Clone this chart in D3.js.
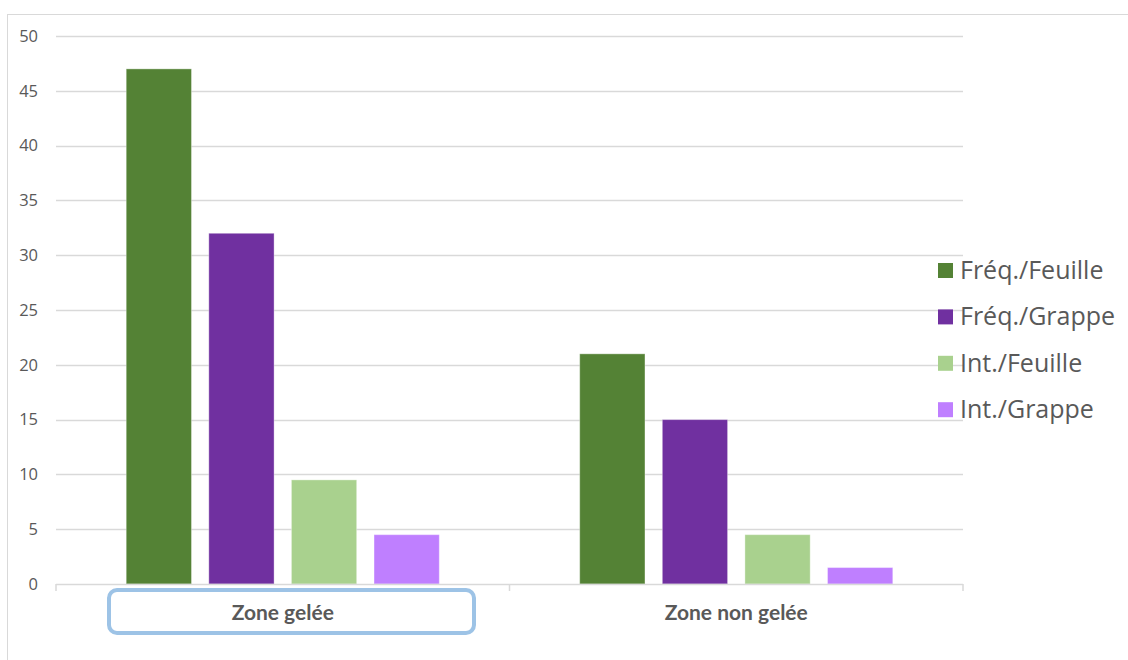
<!DOCTYPE html>
<html>
<head>
<meta charset="utf-8">
<script src="https://cdn.jsdelivr.net/npm/d3@7"></script>
<style>
  body { margin: 0; background: #fff; }
</style>
</head>
<body>
<script>
// categories, series and values
var zones = ["Zone gelée", "Zone non gelée"];
var seriesNames = ["Fréq./Feuille", "Fréq./Grappe", "Int./Feuille", "Int./Grappe"];
var seriesColors = ["#548235", "#7030a0", "#a9d18e", "#bf7fff"];
var valuesGelee = [47, 32, 9.5, 4.5];
var valuesNonGelee = [21, 15, 4.5, 1.5];
var yTicks = [0, 5, 10, 15, 20, 25, 30, 35, 40, 45, 50];

var width = 1128, height = 660;
var margin = {top: 36, right: 165, bottom: 76, left: 56};

var svg = d3.select("body").append("svg")
    .attr("width", width)
    .attr("height", height);

// outer chart frame
svg.append("rect")
    .attr("x", 7.5).attr("y", 14.5)
    .attr("width", 1140).attr("height", 700)
    .attr("fill", "none")
    .attr("stroke", "#d9d9d9");

var table = [
  {zone: zones[0], values: valuesGelee},
  {zone: zones[1], values: valuesNonGelee}
];

var x0 = d3.scaleBand()
    .domain(zones)
    .range([margin.left, width - margin.right])
    .paddingInner(0)
    .paddingOuter(0);

var x1 = d3.scaleBand()
    .domain(seriesNames)
    .range([0, x0.bandwidth()])
    .paddingInner(0.21)
    .paddingOuter(0.85);

var y = d3.scaleLinear()
    .domain([0, 50])
    .range([584, margin.top]);

var color = d3.scaleOrdinal().domain(seriesNames).range(seriesColors);

// gridlines
svg.append("g")
  .selectAll("line")
  .data(yTicks.filter(function(d) { return d > 0; }))
  .enter().append("line")
    .attr("x1", x0.range()[0])
    .attr("x2", x0.range()[1])
    .attr("y1", function(d) { return Math.round(y(d)) + 0.5; })
    .attr("y2", function(d) { return Math.round(y(d)) + 0.5; })
    .attr("stroke", "#d9d9d9")
    .attr("stroke-width", 1.5);

// y tick labels
svg.append("g")
  .selectAll("text")
  .data(yTicks)
  .enter().append("text")
    .attr("x", 38)
    .attr("y", function(d) { return y(d); })
    .attr("dy", "0.35em")
    .attr("text-anchor", "end")
    .attr("font-family", "'Open Sans', sans-serif")
    .attr("font-size", 16.5)
    .attr("fill", "#595959")
    .text(function(d) { return d; });

// bars
var groups = svg.append("g")
  .selectAll("g")
  .data(table)
  .enter().append("g")
    .attr("transform", function(d) { return "translate(" + x0(d.zone) + ",0)"; });

groups.selectAll("rect")
  .data(function(d) {
    return d.values.map(function(v, i) { return {name: seriesNames[i], value: v}; });
  })
  .enter().append("rect")
    .attr("x", function(d) { return x1(d.name); })
    .attr("y", function(d) { return y(d.value); })
    .attr("width", x1.bandwidth())
    .attr("height", function(d) { return y(0) - y(d.value); })
    .attr("fill", function(d) { return color(d.name); })
    .attr("stroke", "#ffffff")
    .attr("stroke-opacity", 0.35)
    .attr("stroke-width", 1);

// x axis line and tick marks
var xAxis = svg.append("g");
xAxis.append("line")
    .attr("x1", x0.range()[0]).attr("x2", x0.range()[1])
    .attr("y1", y(0) + 0.5).attr("y2", y(0) + 0.5)
    .attr("stroke", "#d9d9d9")
    .attr("stroke-width", 1.5);
xAxis.selectAll(".tick")
  .data([x0.range()[0], x0(zones[1]), x0.range()[1]])
  .enter().append("line")
    .attr("x1", function(d) { return d; })
    .attr("x2", function(d) { return d; })
    .attr("y1", y(0))
    .attr("y2", y(0) + 7)
    .attr("stroke", "#d9d9d9")
    .attr("stroke-width", 1.5);

// category labels
xAxis.selectAll("text")
  .data(zones)
  .enter().append("text")
    .attr("x", function(d) { return x0(d) + x0.bandwidth() / 2; })
    .attr("y", 620)
    .attr("text-anchor", "middle")
    .attr("font-family", "Lato, 'Open Sans', sans-serif")
    .attr("font-weight", "bold")
    .attr("font-size", 21)
    .attr("fill", "#595959")
    .text(function(d) { return d; });

// highlight box round the first category
svg.append("rect")
    .attr("x", 109).attr("y", 590)
    .attr("width", 365).attr("height", 43)
    .attr("rx", 8).attr("ry", 8)
    .attr("fill", "none")
    .attr("stroke", "#9dc3e6")
    .attr("stroke-width", 4);

// legend
var legend = svg.append("g")
    .attr("transform", "translate(938,270)");

var item = legend.selectAll("g")
  .data(seriesNames)
  .enter().append("g")
    .attr("transform", function(d, i) { return "translate(0," + (i * 46.4) + ")"; });

item.append("rect")
    .attr("x", 0).attr("y", -7)
    .attr("width", 15).attr("height", 15)
    .attr("fill", function(d) { return color(d); });

item.append("text")
    .attr("x", 22)
    .attr("y", 0)
    .attr("dy", "0.35em")
    .attr("font-family", "'Open Sans', sans-serif")
    .attr("font-size", 25)
    .attr("fill", "#595959")
    .text(function(d) { return d; });
</script>
</body>
</html>
